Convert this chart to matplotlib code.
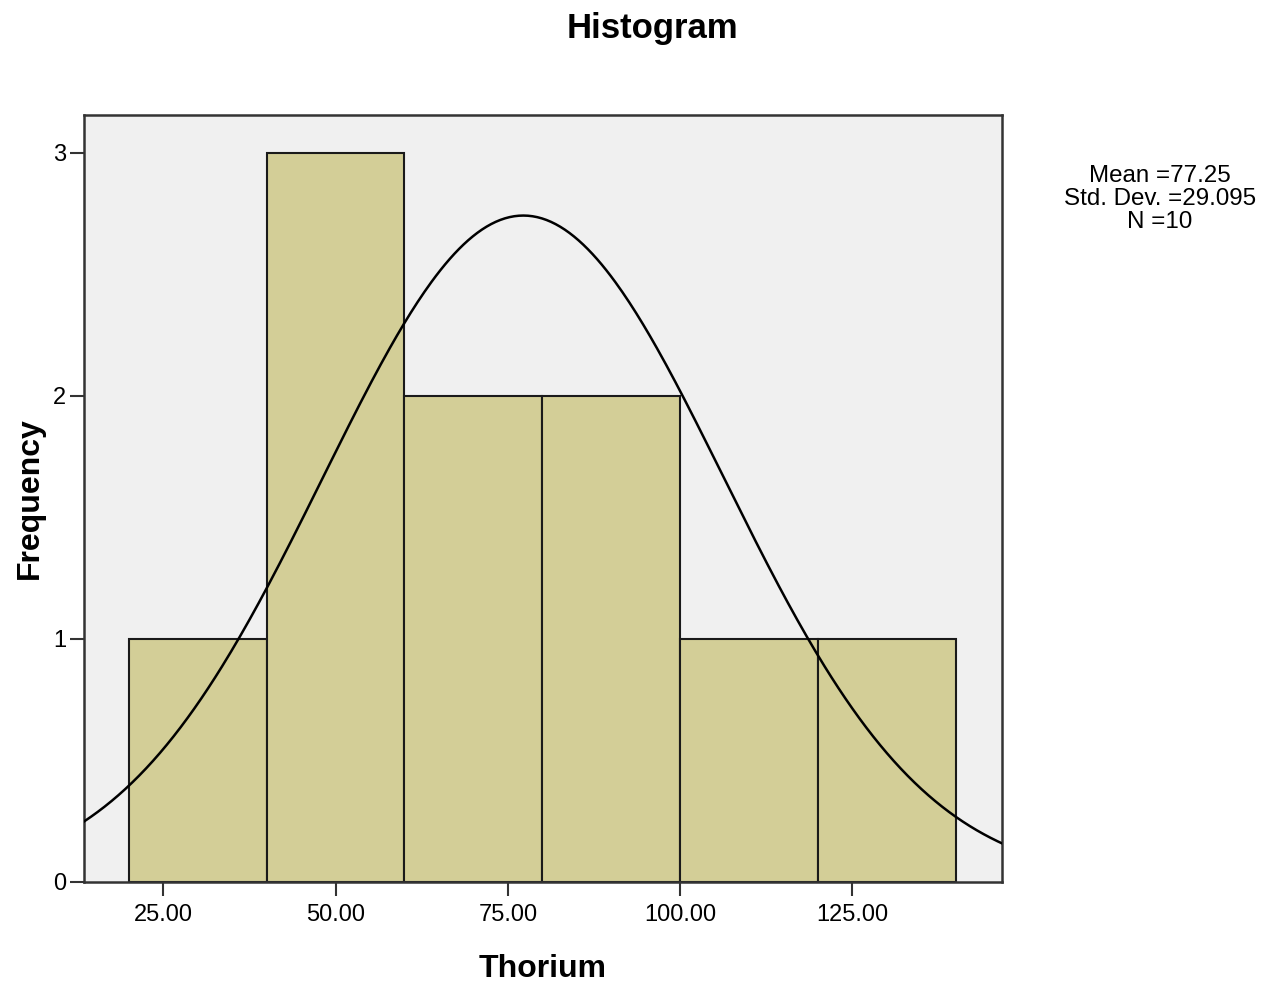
import matplotlib
matplotlib.use("Agg")
import matplotlib.pyplot as plt
import numpy as np

plt.rcParams["font.family"] = ["Liberation Sans", "DejaVu Sans"]

# histogram of Thorium (bins of width 20)
bin_edges = [20, 40, 60, 80, 100, 120, 140]
counts = [1, 3, 2, 2, 1, 1]
mean_val = 77.25
std_val = 29.095
n_val = 10
xticks = [25, 50, 75, 100, 125]
yticks = [0, 1, 2, 3]

fig = plt.figure(figsize=(12.74, 9.84), dpi=100)
ax = fig.add_axes([0.0659, 0.1037, 0.7206, 0.7794])
ax.set_facecolor("#f0f0f0")

widths = np.diff(bin_edges)
ax.bar(bin_edges[:-1], counts, width=widths, align="edge",
       color="#d3ce97", edgecolor="#1a1a1a", linewidth=1.5, zorder=2)

# fitted normal curve scaled to counts
bw = widths[0]
xs = np.linspace(13.5, 146.7, 400)
ys = n_val * bw / (std_val * np.sqrt(2 * np.pi)) * np.exp(-0.5 * ((xs - mean_val) / std_val) ** 2)
ax.plot(xs, ys, color="black", linewidth=1.8, zorder=3)

ax.set_xlim(13.5, 146.7)
ax.set_ylim(0, 3.156)
ax.set_xticks(xticks)
ax.set_xticklabels(["%.2f" % t for t in xticks])
ax.set_yticks(yticks)
ax.tick_params(axis="both", labelsize=17, length=10, width=1.5, color="#333333")
ax.tick_params(axis="x", pad=6)
ax.tick_params(axis="y", pad=3)
for s in ax.spines.values():
    s.set_linewidth(1.8)
    s.set_color("#333333")

ax.set_xlabel("Thorium", fontsize=23, fontweight="bold", labelpad=20)
ax.set_ylabel("Frequency", fontsize=23, fontweight="bold", labelpad=6)

fig.text(0.512, 0.9715, "Histogram", fontsize=25, fontweight="bold", ha="center", va="center")
fig.text(0.9105, 0.832,
         "Mean =%.2f\nStd. Dev. =%.3f\nN =%d" % (mean_val, std_val, n_val),
         fontsize=17.4, ha="center", va="top", linespacing=1.04)

fig.savefig("out.png", dpi=100)
